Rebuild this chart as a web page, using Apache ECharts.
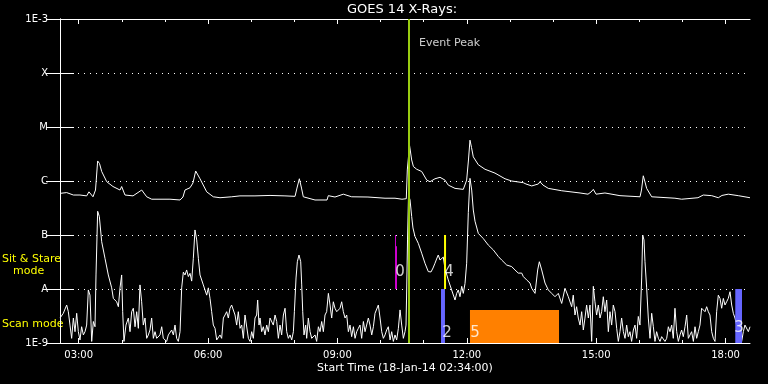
<!DOCTYPE html>
<html><head><meta charset="utf-8">
<script src="https://cdn.jsdelivr.net/npm/echarts@6/dist/echarts.min.js"></script>
<style>html,body{margin:0;padding:0;background:#000}#c{width:768px;height:384px}</style>
</head><body><div id="c"></div>
<script>
// time axis: minutes after start 02:34
const startMinutes = 154;
const xMajorTicks = [26, 206, 386, 566, 746, 926];
const xMinorTicks = [26,86,146,206,266,326,386,446,506,566,626,686,746,806,866,926];
const yTickValues = [1e-9,1e-8,1e-7,1e-6,1e-5,1e-4,1e-3];
const yTickLabels = ['1E-9','A','B','C','M','X','1E-3'];

// GOES long channel (1-8 A): [minutes, W/m2]
const longChannel = [
[0,5.9e-7],[9.3,6.1e-7],[18.6,5.5e-7],[27.8,5.5e-7],[37.1,5.3e-7],[40.3,6.3e-7],[45.9,5.1e-7],[49.4,6.8e-7],[52.4,2.35e-6],[55.0,2.1e-6],[58.0,1.5e-6],[65.0,9.7e-7],[73.7,7.9e-7],[83.5,6.8e-7],[85.8,7.9e-7],[90.4,5.5e-7],[101.6,5.3e-7],[113.7,6.8e-7],[120.6,5.1e-7],[127.6,4.6e-7],[153.0,4.6e-7],[167.0,4.45e-7],[171.1,5.05e-7],[173.9,6.8e-7],[180.9,7.5e-7],[185.0,9.2e-7],[188.8,1.53e-6],[194.8,1.1e-6],[204.1,6.3e-7],[213.3,5.1e-7],[222.6,4.9e-7],[238.9,5.1e-7],[250.4,5.3e-7],[271.3,5.3e-7],[292.2,5.4e-7],[313.0,5.3e-7],[327.0,5.2e-7],[329.7,7.4e-7],[333.0,1.1e-6],[336.0,7.4e-7],[338.5,5.1e-7],[354.8,4.45e-7],[371.5,4.45e-7],[373.3,5.35e-7],[382.6,5.05e-7],[394.2,5.7e-7],[405.8,5.1e-7],[428.5,5.05e-7],[452.2,4.8e-7],[466.1,4.8e-7],[475.8,4.6e-7],[481.8,4.7e-7],[483.2,1.6e-6],[486.3,4.6e-6],[489.3,2.45e-6],[491.7,1.85e-6],[496.3,1.65e-6],[503.2,1.5e-6],[510.2,1.04e-6],[514.8,9.7e-7],[521.7,1.1e-6],[528.7,1.17e-6],[535.6,1.04e-6],[540.2,8.4e-7],[549.6,7.3e-7],[561.1,7.0e-7],[565.8,1.04e-6],[568.3,2.45e-6],[570.4,5.7e-6],[572.5,4.2e-6],[575.0,2.8e-6],[582.0,2.0e-6],[591.3,1.65e-6],[605.2,1.4e-6],[619.1,1.1e-6],[628.4,1.0e-6],[644.6,9.3e-7],[646.0,1.0e-6],[648.3,8.8e-7],[656.3,8.1e-7],[665.5,8.8e-7],[667.8,9.7e-7],[672.0,8.4e-7],[679.4,7.3e-7],[698.0,6.6e-7],[723.5,6.0e-7],[734.6,5.7e-7],[738.8,6.25e-7],[742.0,7.0e-7],[745.8,5.7e-7],[758.2,6.0e-7],[779.1,5.35e-7],[807.0,5.1e-7],[809.0,6.8e-7],[811.5,1.25e-6],[813.9,9.6e-7],[816.2,7.3e-7],[823.2,5.1e-7],[855.6,4.8e-7],[864.9,4.6e-7],[887.6,4.9e-7],[895.0,5.5e-7],[906.7,5.35e-7],[915.9,4.9e-7],[921.0,5.4e-7],[929.8,5.7e-7],[943.7,5.35e-7],[960,4.9e-7]
];

// GOES short channel (0.5-4 A): [minutes, W/m2]
const shortChannel = [
[0,2.9e-9],[4.6,3.55e-9],[9.3,5.05e-9],[11.6,3.8e-9],[13.9,2.15e-9],[16.2,1.22e-9],[18.6,2.9e-9],[20.9,1.62e-9],[23.2,3.55e-9],[25.5,1.62e-9],[27.8,1.14e-9],[30.1,2.0e-9],[32.5,1.41e-9],[34.8,1.62e-9],[37.1,2.15e-9],[39.4,9.6e-9],[41.7,7.7e-9],[44.1,1.07e-9],[46.4,2.5e-9],[48.7,2.0e-9],[50.1,1.82e-8],[52.4,2.75e-7],[54.7,2.2e-7],[58.0,7.5e-8],[62.6,3.7e-8],[67.2,1.82e-8],[71.9,1.05e-8],[74.2,6.7e-9],[78.8,5.8e-9],[81.2,4.7e-9],[83.5,1.05e-8],[85.8,1.82e-8],[87.2,3.8e-9],[89.0,1.07e-9],[91.8,2.15e-9],[95.1,2.9e-9],[97.4,1.62e-9],[99.7,3.8e-9],[102.0,4.4e-9],[104.4,2.0e-9],[106.7,3.8e-9],[109.0,1.87e-9],[111.3,1.19e-8],[113.6,5.8e-9],[115.9,2.15e-9],[118.3,2.9e-9],[120.6,1.22e-9],[122.9,1.41e-9],[125.2,1.74e-9],[127.5,2.9e-9],[129.9,1.22e-9],[132.2,1.62e-9],[134.5,1.22e-9],[139.1,1.41e-9],[141.5,2.0e-9],[143.8,1.22e-9],[146.1,1.31e-9],[148.4,1.07e-9],[150.7,1.41e-9],[153.0,1.31e-9],[155.4,1.74e-9],[157.7,1.41e-9],[160.0,2.15e-9],[162.3,1.22e-9],[164.6,1.07e-9],[167.0,1.62e-9],[169.3,1.05e-8],[171.6,2.05e-8],[173.9,1.82e-8],[176.2,2.25e-8],[178.6,1.7e-8],[180.9,1.95e-8],[183.2,1.4e-8],[185.5,3.7e-8],[187.8,1.24e-7],[190.2,8.1e-8],[192.5,3.7e-8],[194.8,1.82e-8],[199.4,1.19e-8],[204.1,7.7e-9],[206.4,1.05e-8],[208.7,6.7e-9],[211.0,3.8e-9],[213.3,2.15e-9],[215.7,1.87e-9],[218.0,1.14e-9],[220.3,1.07e-9],[222.6,1.41e-9],[224.9,1.22e-9],[227.3,2.9e-9],[229.6,3.3e-9],[231.9,3.8e-9],[234.2,2.9e-9],[236.5,4.4e-9],[238.8,5.05e-9],
[243.5,3.3e-9],[245.8,2.15e-9],[248.1,3.8e-9],[250.5,1.87e-9],[252.8,2.15e-9],[255.1,1.22e-9],[257.4,3.3e-9],[259.7,3.55e-9],[262.1,1.22e-9],[264.4,1.07e-9],[266.7,1.62e-9],[269.0,1.22e-9],[271.3,2.9e-9],[273.6,3.3e-9],[275.0,6.25e-9],[276.9,2.15e-9],[278.3,2.9e-9],[280.6,1.62e-9],[282.9,2.0e-9],[285.2,1.41e-9],[287.6,2.15e-9],[289.9,1.62e-9],[292.2,2.9e-9],[294.5,3.1e-9],[296.8,2.15e-9],[299.2,3.3e-9],[301.5,2.5e-9],[303.8,1.22e-9],[306.1,2.15e-9],[308.4,1.41e-9],[310.8,3.3e-9],[313.1,4.4e-9],[315.4,1.62e-9],[317.7,1.22e-9],[320.0,1.41e-9],[322.4,1.14e-9],[324.7,1.62e-9],[326.1,3.8e-9],[328.4,1.6e-8],[330.2,3.2e-8],[332.5,4.26e-8],[334.9,3.2e-8],[336.3,1.19e-8],[337.7,3.8e-9],[339.5,1.41e-9],[341.8,2.15e-9],[343.2,1.22e-9],[345.5,2.9e-9],[347.9,1.62e-9],[350.2,1.22e-9],[354.8,1.41e-9],[357.1,1.07e-9],[359.5,2.0e-9],[361.8,1.62e-9],[364.1,2.5e-9],[366.4,1.62e-9],[368.7,3.3e-9],[371.0,3.8e-9],[373.4,8.3e-9],[375.7,5.05e-9],[378.0,2.9e-9],[380.3,5.8e-9],[382.6,4.4e-9],[385.0,3.8e-9],[387.3,3.8e-9],[389.6,4.4e-9],[391.9,5.8e-9],[394.2,3.8e-9],[396.6,2.9e-9],[398.9,3.3e-9],[401.2,1.62e-9],[403.5,2.15e-9],[405.8,1.31e-9],[408.2,2.0e-9],[410.5,1.22e-9],[412.8,1.62e-9],[415.1,1.87e-9],[417.4,2.15e-9],[419.7,1.22e-9],[422.1,2.5e-9],[424.4,1.62e-9],[426.7,1.74e-9],[429.0,2.9e-9],[431.3,2.15e-9],[433.7,1.41e-9],[436.0,2.0e-9],[438.3,3.55e-9],[440.6,3.8e-9],[442.9,5.05e-9],[445.3,2.9e-9],[447.6,1.62e-9],[449.9,1.22e-9],[452.2,1.41e-9],[454.5,1.74e-9],[456.8,2.0e-9],[459.2,1.14e-9],[461.5,1.62e-9],[463.8,1.07e-9],[466.1,1.41e-9],[468.4,1.14e-9],[470.8,1.87e-9],[473.1,4.1e-9],[475.4,2.15e-9],[477.7,1.22e-9],[480.0,1.62e-9],[481.4,2.15e-9],
[482.1,6.25e-9],[483.5,8.1e-8],[484.9,5.5e-7],[487.0,4.45e-7],[489.3,2.2e-7],[491.1,1.35e-7],[493.9,9.4e-8],[498.5,7.0e-8],[503.2,4.6e-8],[507.8,3.0e-8],[512.4,2.1e-8],[516.2,2.07e-8],[519.0,2.45e-8],[521.7,3.0e-8],[524.5,3.75e-8],[526.3,4.26e-8],[528.7,3.44e-8],[531.0,3.2e-8],[533.3,3.9e-8],[535.6,2.4e-8],[540.2,1.47e-8],[544.9,9.6e-9],[549.6,6.25e-9],[551.9,8.3e-9],[554.1,9.6e-9],[556.5,7.2e-9],[558.9,1.12e-8],[561.1,8.3e-9],[563.5,1.27e-8],[565.8,3.0e-8],[568.1,2.6e-7],[570.4,1.12e-6],[572.8,6.8e-7],[575.0,2.9e-7],[577.4,1.8e-7],[582.0,1.07e-7],[588.9,8.6e-8],[595.9,6.5e-8],[602.8,5.3e-8],[609.8,4.0e-8],[614.5,3.44e-8],[621.5,2.78e-8],[628.4,2.6e-8],[633.0,2.25e-8],[637.6,1.97e-8],[642.4,1.97e-8],[644.6,1.7e-8],[649.3,1.47e-8],[653.9,1.29e-8],[656.3,1.03e-8],[660.9,8.3e-9],[664.6,2.25e-8],[666.9,3.2e-8],[670.2,2.25e-8],[674.8,1.29e-8],[679.4,9.6e-9],[684.1,8.3e-9],[688.7,7.2e-9],[693.3,8.3e-9],[698.0,5.4e-9],[702.6,1.03e-8],[707.2,7.2e-9],[711.9,4.7e-9],[714.1,7.7e-9],
[716.5,3.3e-9],[718.8,4.7e-9],[721.1,2.9e-9],[723.5,2.15e-9],[725.8,3.8e-9],[728.1,1.74e-9],[730.4,2.9e-9],[732.7,5.05e-9],[735.1,2.9e-9],[737.4,5.05e-9],[739.7,1.07e-9],[742.0,1.12e-8],[744.3,5.8e-9],[746.6,3.3e-9],[749.0,5.05e-9],[751.3,2.9e-9],[753.6,3.8e-9],[755.9,7.2e-9],[758.2,3.8e-9],[760.6,6.25e-9],[762.9,1.62e-9],[765.2,3.8e-9],[767.5,2.15e-9],[769.8,5.05e-9],[772.2,3.8e-9],[774.5,1.87e-9],[776.8,1.07e-9],[779.1,1.62e-9],[781.4,2.9e-9],[783.8,1.62e-9],[786.1,1.22e-9],[788.4,2.15e-9],[790.7,1.31e-9],[793.0,1.62e-9],[795.3,1.07e-9],[797.7,1.74e-9],[800.0,2.15e-9],[802.3,1.22e-9],[804.6,3.1e-9],[806.9,2.15e-9],[809.3,1.6e-8],[810.7,1.0e-7],[812.5,8.1e-8],[813.9,3.2e-8],[816.2,1.05e-8],[818.5,2.9e-9],[820.9,1.22e-9],[823.2,3.55e-9],[825.5,2.0e-9],[827.8,1.07e-9],[830.1,1.62e-9],[832.5,1.22e-9],[834.8,1.07e-9],[837.1,1.31e-9],[839.4,1.41e-9],[841.7,1.07e-9],[844.1,1.22e-9],[846.4,2.0e-9],[848.7,1.62e-9],[851.0,2.15e-9],[853.3,1.22e-9],[855.6,4.4e-9],[858.0,1.62e-9],[860.3,1.07e-9],[862.6,1.41e-9],[864.9,1.74e-9],[867.2,1.31e-9],[869.6,2.0e-9],[871.9,3.3e-9],[874.2,1.22e-9],[876.5,1.41e-9],[878.8,1.62e-9],[881.2,1.07e-9],[883.5,2.0e-9],[885.8,1.22e-9],[888.1,1.62e-9],[890.4,2.15e-9],[892.7,4.4e-9],[895.1,4.7e-9],[897.4,3.8e-9],[899.7,4.7e-9],[902.0,3.8e-9],[904.3,3.3e-9],[906.7,1.62e-9],[909.0,1.22e-9],[911.3,1.07e-9],[913.6,3.8e-9],[915.9,7.7e-9],[918.3,6.7e-9],[920.6,4.4e-9],[922.9,6.7e-9],[925.2,5.05e-9],[927.5,5.8e-9],[929.8,6.7e-9],[932.2,8.9e-9],[934.5,5.05e-9],[936.8,3.55e-9],[939.1,2.9e-9],[941.4,2.15e-9],[943.8,1.5e-9],[946.1,1.41e-9],[948.4,1.07e-9],[950.7,1.62e-9],[953.0,2.15e-9],[955.4,2.0e-9],[957.7,1.62e-9],[960,2.0e-9]
];

// observation boxes: [t start, t end, flux low, flux high]
const modeBoxes = [
  [466.1, 467.5, 1e-8, 1e-7],
  [466.1, 468.9, 1e-8, 6.2e-8],
  [534.3, 537.1, 1e-8, 1e-7],
  [530.1, 535.6, 1e-9, 1e-8],
  [570.4, 694.3, 1e-9, 4.1e-9],
  [939.5, 948.9, 1e-9, 1e-8]
];
const boxColors = ['#cc00cc','#cc00cc','#ffff00','#6666ff','#ff8000','#6666ff'];
// box number labels: [t, flux, text]
const boxLabels = [[473.0,2.07e-8,'0'],[541.2,2.07e-8,'4'],[538.4,1.52e-9,'2'],[577.4,1.52e-9,'5'],[944.7,1.9e-9,'3']];
const eventPeak = 485.6;
const eventLabel = [499.5, 3.6e-4, 'Event Peak'];

const FF = 'DejaVu Sans';
const pad = n => (n < 10 ? '0' : '') + n;
const fmtTime = v => { const t = startMinutes + Math.round(v); return pad(Math.floor(t/60) % 24) + ':' + pad(t % 60); };
const fmtY = v => yTickLabels[Math.round(Math.log10(v)) + 9];

const W = '#ffffff';
function xAx(pos, ticks, len, line, labels) {
  return {
    type: 'value', min: 0, max: 960, position: pos,
    axisLine: { show: line, lineStyle: { color: W, width: 1 } },
    axisTick: { show: true, inside: true, length: len, customValues: ticks, lineStyle: { color: W } },
    axisLabel: labels ? { show: true, customValues: ticks, formatter: fmtTime, color: W, fontSize: 10, fontFamily: FF, margin: 7 } : { show: false },
    splitLine: { show: false }
  };
}
function yAx(pos, labels) {
  return {
    type: 'log', logBase: 10, min: 1e-9, max: 1e-3, position: pos,
    axisLine: { show: true, lineStyle: { color: W, width: 1 } },
    axisTick: { show: true, inside: true, length: 14, customValues: yTickValues, lineStyle: { color: W } },
    axisLabel: labels ? { show: true, customValues: yTickValues, formatter: fmtY, color: W, fontSize: 10, fontFamily: FF, margin: 12 } : { show: false },
    splitLine: labels ? { show: true, lineStyle: { color: W, width: 1, type: [1, 5] } } : { show: false }
  };
}

const chart = echarts.init(document.getElementById('c'), null, { renderer: 'canvas' });
chart.setOption({
  backgroundColor: '#000',
  animation: false,
  grid: { left: 60, right: 18, top: 19, bottom: 41 },
  xAxis: [
    xAx('bottom', xMajorTicks, 5, true, true),
    xAx('bottom', xMinorTicks, 3, false, false),
    xAx('top', xMajorTicks, 5, true, false),
    xAx('top', xMinorTicks, 3, false, false)
  ],
  yAxis: [yAx('left', true), yAx('right', false)],
  graphic: [
    { type: 'text', style: { text: 'GOES 14 X-Rays:', x: 402, y: 10, align: 'center', verticalAlign: 'middle', fill: W, font: '13px "DejaVu Sans"' } },
    { type: 'text', style: { text: 'Start Time (18-Jan-14 02:34:00)', x: 405, y: 368, align: 'center', verticalAlign: 'middle', fill: W, font: '11px "DejaVu Sans"' } },
    { type: 'text', style: { text: 'Sit & Stare', x: 2, y: 259, align: 'left', verticalAlign: 'middle', fill: '#ffff00', font: '11px "DejaVu Sans"' } },
    { type: 'text', style: { text: 'mode', x: 13, y: 271, align: 'left', verticalAlign: 'middle', fill: '#ffff00', font: '11px "DejaVu Sans"' } },
    { type: 'text', style: { text: 'Scan mode', x: 2, y: 324, align: 'left', verticalAlign: 'middle', fill: '#ffff00', font: '11px "DejaVu Sans"' } }
  ],
  series: [
    { type: 'line', data: longChannel, showSymbol: false, symbol: 'none', lineStyle: { color: W, width: 1 }, z: 2,
      markLine: { silent: true, symbol: 'none', label: { show: false }, lineStyle: { color: '#99cc11', width: 2, type: 'solid' }, data: [{ xAxis: eventPeak }] } },
    { type: 'line', data: shortChannel, showSymbol: false, symbol: 'none', lineStyle: { color: W, width: 1 }, z: 2 },
    { type: 'custom', data: modeBoxes, z: 3, encode: { x: [0, 1], y: [2, 3] },
      renderItem: (params, api) => {
        const a = api.coord([api.value(0), api.value(3)]);
        const b = api.coord([api.value(1), api.value(2)]);
        return { type: 'rect', shape: { x: a[0], y: a[1], width: b[0] - a[0], height: b[1] - a[1] }, style: { fill: boxColors[params.dataIndex] } };
      } },
    { type: 'scatter', symbolSize: 0, z: 6, silent: true,
      data: boxLabels.map(d => ({ value: d })).concat([{ value: eventLabel, label: { align: 'left', fontSize: 11 } }]),
      label: { show: true, position: [0, 0], align: 'center', verticalAlign: 'middle', formatter: p => p.value[2], color: W, fontSize: 15, fontWeight: 'normal', fontFamily: FF } }
  ]
});
</script></body></html>
